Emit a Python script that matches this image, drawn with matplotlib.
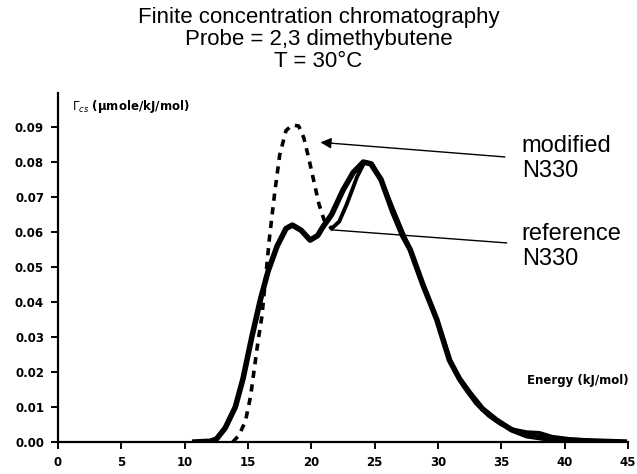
import numpy as np
import matplotlib.pyplot as plt

plt.rcParams['font.family'] = ['Liberation Sans', 'DejaVu Sans']

# reference N330 (solid)
ref_x = [10.8, 12.0, 12.5, 13.2, 14.0, 14.6, 15.3, 16.0, 16.6, 17.3, 18.0, 18.5, 19.2,
         19.9, 20.5, 20.9, 21.6, 22.5, 23.3, 24.1, 24.7, 25.5, 26.4, 27.2, 27.8, 28.8,
         29.9, 30.9, 31.7, 32.5, 33.5, 34.6, 35.8, 37.0, 38.5, 40.0, 42.0, 44.7]
ref_y = [0.0, 0.0002, 0.0008, 0.004, 0.010, 0.018, 0.030, 0.041, 0.049, 0.056, 0.061,
         0.062, 0.0605, 0.0577, 0.059, 0.0614, 0.065, 0.072, 0.077, 0.080, 0.0795, 0.075,
         0.066, 0.059, 0.055, 0.045, 0.035, 0.0234, 0.018, 0.014, 0.0095, 0.0063, 0.0035,
         0.0018, 0.0010, 0.0006, 0.0003, 0.0]

# modified N330 (dashed up to the break, then solid)
mod_x = [13.8, 14.3, 14.8, 15.2, 15.8, 16.1, 16.7, 17.1, 17.5, 18.0, 18.5, 19.0, 19.4,
         19.8, 20.2, 20.6, 21.0, 21.6, 22.2, 22.8, 23.6, 24.2, 24.8, 25.6, 26.4, 27.2, 27.9,
         28.9, 30.0, 31.0, 32.0, 33.0, 34.0, 35.0, 36.0, 37.0, 38.0, 39.0, 40.5, 42.0, 44.7]
mod_y = [0.0, 0.002, 0.006, 0.013, 0.029, 0.036, 0.0586, 0.071, 0.082, 0.089, 0.0906,
         0.0903, 0.087, 0.081, 0.0745, 0.068, 0.0635, 0.061, 0.063, 0.068, 0.0757, 0.080,
         0.0795, 0.074, 0.067, 0.060, 0.054, 0.044, 0.034, 0.023, 0.016, 0.011, 0.0075,
         0.005, 0.0035, 0.0028, 0.0026, 0.0015, 0.0008, 0.0004, 0.0]
mod_break = 17

x_ticks = np.arange(0, 46, 5)
y_ticks = np.arange(0, 0.091, 0.01)

fig = plt.figure(figsize=(6.37, 4.74), dpi=100)
ax = fig.add_axes([0.091, 0.0675, 0.895, 0.736])

ax.plot(mod_x[:mod_break + 1], mod_y[:mod_break + 1], color='black', lw=2.6,
        linestyle=(0, (2.0, 1.8)), solid_capstyle='butt')
ax.plot(mod_x[mod_break:], mod_y[mod_break:], color='black', lw=2.8)
ax.plot(ref_x, ref_y, color='black', lw=4)

ax.annotate('', xy=(20.5, 0.0857), xytext=(35.5, 0.0814),
            arrowprops=dict(arrowstyle='-|>', color='black', lw=1, mutation_scale=16))
ax.plot([21.7, 35.4], [0.0606, 0.0569], color='black', lw=1)
ax.text(36.6, 0.0810, 'modified\nN330', fontsize=17, va='center', ha='left', linespacing=1.15)
ax.text(36.6, 0.0559, 'reference\nN330', fontsize=17, va='center', ha='left', linespacing=1.15)

small = dict(family='DejaVu Sans', fontweight='bold', fontsize=8.5, va='center', ha='left')
ax.text(1.1, 0.096, r'$\Gamma_{cs}$ (µmole/kJ/mol)', **small)
ax.text(37.0, 0.0177, 'Energy (kJ/mol)', **small)

fig.text(0.5, 0.985, 'Finite concentration chromatography\nProbe = 2,3 dimethybutene\nT = 30°C',
         fontsize=16, ha='center', va='top', linespacing=1.05)

ax.set_xlim(0, 45)
ax.set_ylim(0, 0.0997)
ax.set_xticks(x_ticks)
ax.set_xticklabels([str(t) for t in x_ticks], fontsize=8.5, fontweight='bold', family='DejaVu Sans')
ax.set_yticks(y_ticks)
ax.set_yticklabels(['%.2f' % t for t in y_ticks], fontsize=8.5, fontweight='bold', family='DejaVu Sans')
ax.tick_params(direction='out', length=5, width=1.4, pad=5)
ax.spines['top'].set_visible(False)
ax.spines['right'].set_visible(False)
ax.spines['left'].set_linewidth(1.6)
ax.spines['bottom'].set_linewidth(1.6)

fig.savefig('out.png', dpi=100)
